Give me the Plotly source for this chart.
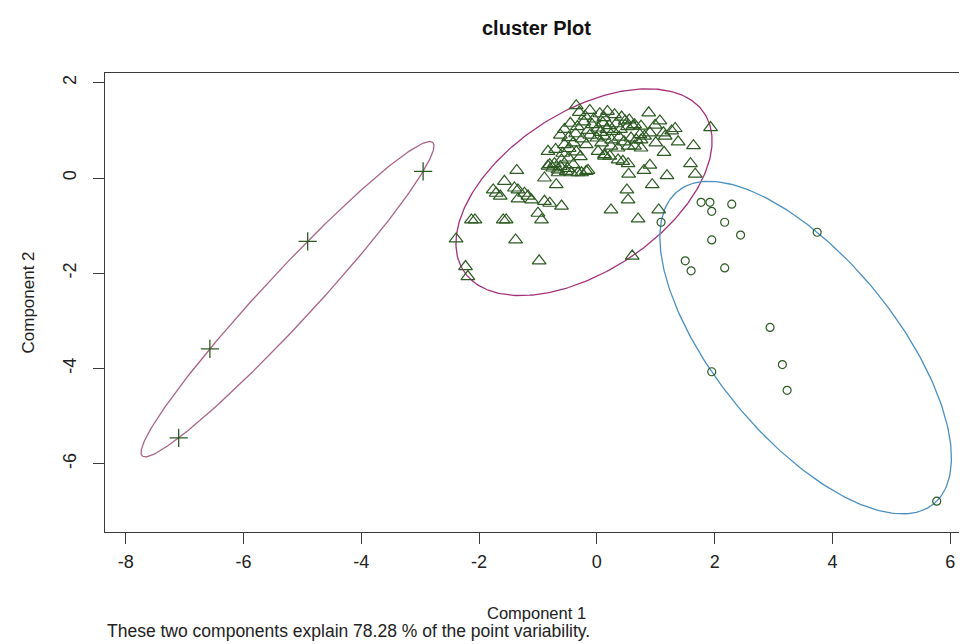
import numpy as np
import plotly.graph_objects as go

# ---------------- data (component scores) ----------------
# cluster 1 : triangles
tri_x = [
    # sparse, left tail
    -0.35, -0.83, -1.36, -0.89, -0.69, -1.57, -1.76, -1.71, -1.64, -1.40, -1.34, -1.23,
    -1.17, -1.11, -1.34, -0.89, -0.80, -0.60, -1.00, -0.94, -2.13, -2.07, -1.59, -1.54,
    -2.39, -1.38, -0.98, -2.23, -2.19, -0.80, -0.66,
    -0.83, -0.75, -0.66, -0.52, -0.43, -0.32, -0.18,
    # sparse, right side
    0.88, 1.07, 1.33, 1.93, 1.64, 1.13, 1.14, 1.59, 1.67, 1.19, 0.90, 0.80, 0.94, 0.54,
    0.51, 0.53, 0.24, 1.05, 0.70, 0.60, -0.15, -0.26, 0.13, 0.36, 0.44, 0.53, 0.75,
    0.64, 0.90, 0.81, 0.73,
    0.58, 0.67, 0.75, 0.53, 0.64, 0.75, 0.24, 0.36, 0.02, 0.13, 0.22,
    0.48, 0.61, 0.99, 1.16, 1.27, 1.38, 1.00,
    # dense core
    -0.30, -0.12, 0.05, 0.18, 0.30, 0.42, 0.12, -0.20, -0.05, 0.55,
    -0.45, -0.33, -0.22, -0.08, 0.02, 0.10, 0.21, 0.33, 0.40, 0.52, 0.28, -0.15, -0.55,
    0.06, 0.17,
    -0.62, -0.48, -0.36, -0.25, -0.12, 0.00, 0.12, 0.25, 0.38, 0.46, -0.40, -0.18, -0.55,
    0.08,
    -0.70, -0.58, -0.47, -0.35, -0.28, -0.60, -0.48,
    -0.72, -0.62, -0.50, -0.40]
tri_y = [
    1.52, 0.56, 0.16, 0.00, -0.14, -0.07, -0.25, -0.32, -0.38, -0.21, -0.25, -0.32,
    -0.38, -0.46, -0.44, -0.49, -0.53, -0.59, -0.74, -0.88, -0.88, -0.88, -0.88, -0.88,
    -1.28, -1.30, -1.74, -1.86, -2.07, 0.28, 0.11,
    0.25, 0.21, 0.17, 0.14, 0.11, 0.11, 0.14,
    1.37, 1.20, 1.04, 1.06, 0.68, 0.95, 0.54, 0.30, 0.08, 0.05, 0.27, 0.16, -0.14, 0.08,
    -0.25, -0.46, -0.67, -0.67, -0.86, -1.64, 0.16, 0.11, 0.46, 0.38, 0.35, 0.30, 1.09,
    1.12, 0.95, 0.88, 0.91,
    0.84, 0.80, 0.80, 0.67, 0.67, 0.63, 0.67, 0.63, 0.56, 0.49, 0.46,
    1.20, 1.09, 1.11, 0.88, 0.99, 0.76, 0.74,
    1.38, 1.42, 1.35, 1.40, 1.33, 1.28, 1.27, 1.30, 1.24, 1.22,
    1.15, 1.08, 1.18, 1.12, 1.05, 1.16, 1.10, 1.14, 1.02, 1.08, 0.98, 1.00, 1.02,
    0.96, 1.02,
    0.90, 0.85, 0.93, 0.82, 0.90, 0.84, 0.88, 0.80, 0.86, 0.76, 0.74, 0.70, 0.70,
    0.74,
    0.60, 0.52, 0.62, 0.55, 0.45, 0.38, 0.42,
    0.30, 0.24, 0.20, 0.28]

# cluster 2 : circles
circ_x = [1.09, 1.77, 1.92, 1.95, 2.29, 2.17, 2.44, 1.95, 1.50, 1.60, 2.17, 3.74, 2.94,
          3.15, 3.23, 1.95, 5.77]
circ_y = [-0.93, -0.51, -0.51, -0.70, -0.55, -0.93, -1.20, -1.30, -1.74, -1.95, -1.89,
          -1.14, -3.14, -3.92, -4.46, -4.07, -6.79]

# cluster 3 : crosses
cross_x = [-2.95, -4.91, -6.57, -7.10]
cross_y = [0.14, -1.33, -3.59, -5.46]

x_ticks = [-8, -6, -4, -2, 0, 2, 4, 6]
y_ticks = [-6, -4, -2, 0, 2]

title_text = "cluster Plot"
xlab = "Component 1"
ylab = "Component 2"
sub_text = "These two components explain 78.28 % of the point variability."

POINT_COL = "#2c5a22"
ELL_COLS = ["#a3327a", "#4b90c2", "#a96588"]


def mvee(px, py, tol=1e-8, max_iter=200000):
    """minimum volume enclosing ellipse (Khachiyan) -> centre, matrix A"""
    P = np.column_stack([px, py]).astype(float)
    n, d = P.shape
    Q = np.vstack([P.T, np.ones(n)])
    u = np.ones(n) / n
    for _ in range(max_iter):
        X = Q @ np.diag(u) @ Q.T
        M = np.einsum("ij,ji->i", Q.T @ np.linalg.inv(X), Q)
        j = int(np.argmax(M))
        step = (M[j] - d - 1.0) / ((d + 1.0) * (M[j] - 1.0))
        nu = (1 - step) * u
        nu[j] += step
        if np.linalg.norm(nu - u) < tol:
            u = nu
            break
        u = nu
    c = P.T @ u
    A = np.linalg.inv(P.T @ np.diag(u) @ P - np.outer(c, c)) / d
    return c, A


def ellipse_path(px, py, n=300):
    c, A = mvee(px, py)
    w, V = np.linalg.eigh(A)
    t = np.linspace(0, 2 * np.pi, n)
    pts = V @ np.vstack([np.cos(t) / np.sqrt(w[0]), np.sin(t) / np.sqrt(w[1])])
    return c[0] + pts[0], c[1] + pts[1]


fig = go.Figure()

for (xs, ys), col in zip([(tri_x, tri_y), (circ_x, circ_y), (cross_x, cross_y)], ELL_COLS):
    ex, ey = ellipse_path(xs, ys)
    fig.add_trace(go.Scatter(x=ex, y=ey, mode="lines", line=dict(color=col, width=1.3),
                             hoverinfo="skip", showlegend=False))

fig.add_trace(go.Scatter(x=tri_x, y=tri_y, mode="markers", showlegend=False,
                         marker=dict(symbol="triangle-up-open", size=12, color=POINT_COL,
                                     line=dict(width=1.2, color=POINT_COL))))
fig.add_trace(go.Scatter(x=circ_x, y=circ_y, mode="markers", showlegend=False,
                         marker=dict(symbol="circle-open", size=8, color=POINT_COL,
                                     line=dict(width=1.2, color=POINT_COL))))
fig.add_trace(go.Scatter(x=cross_x, y=cross_y, mode="markers", showlegend=False,
                         marker=dict(symbol="cross-thin-open", size=13, color=POINT_COL,
                                     line=dict(width=1.3, color=POINT_COL))))

FONT = "Liberation Sans, Arial, sans-serif"
axis_common = dict(showgrid=False, zeroline=False, showline=True, linecolor="#3a3a3a",
                   linewidth=1.3, ticks="outside", ticklen=11, tickwidth=1.2,
                   tickcolor="#3a3a3a", tickfont=dict(family=FONT, size=18, color="#222222"))

fig.update_layout(
    width=967, height=644,
    margin=dict(l=97, r=0, t=65, b=120),
    plot_bgcolor="white", paper_bgcolor="white",
    xaxis=dict(range=[-8.351, 6.42], tickvals=x_ticks, ticktext=[str(v) for v in x_ticks],
               mirror=True, ticklabelstandoff=2, **axis_common),
    yaxis=dict(range=[-7.437, 2.206], tickvals=y_ticks, ticktext=[str(v) for v in y_ticks],
               tickangle=-90, mirror=False, ticklabelstandoff=10, **axis_common),
    annotations=[
        dict(text="<b>" + title_text + "</b>", xref="paper", yref="paper", x=0.4955,
             y=1.098, xanchor="center", yanchor="middle", showarrow=False,
             font=dict(family=FONT, size=20, color="#111111")),
        dict(text=xlab, xref="paper", yref="paper", x=0.4955, y=-0.1760,
             xanchor="center", yanchor="middle", showarrow=False,
             font=dict(family=FONT, size=16.5, color="#222222")),
        dict(text=sub_text, xref="paper", yref="paper", x=0.0, y=-0.2160,
             xanchor="left", yanchor="middle", showarrow=False,
             font=dict(family=FONT, size=17.5, color="#222222")),
        dict(text=ylab, xref="paper", yref="paper", x=-0.0885, y=0.5,
             xanchor="center", yanchor="middle", textangle=-90, showarrow=False,
             font=dict(family=FONT, size=17, color="#222222")),
    ],
)

fig.write_html("out.html")
